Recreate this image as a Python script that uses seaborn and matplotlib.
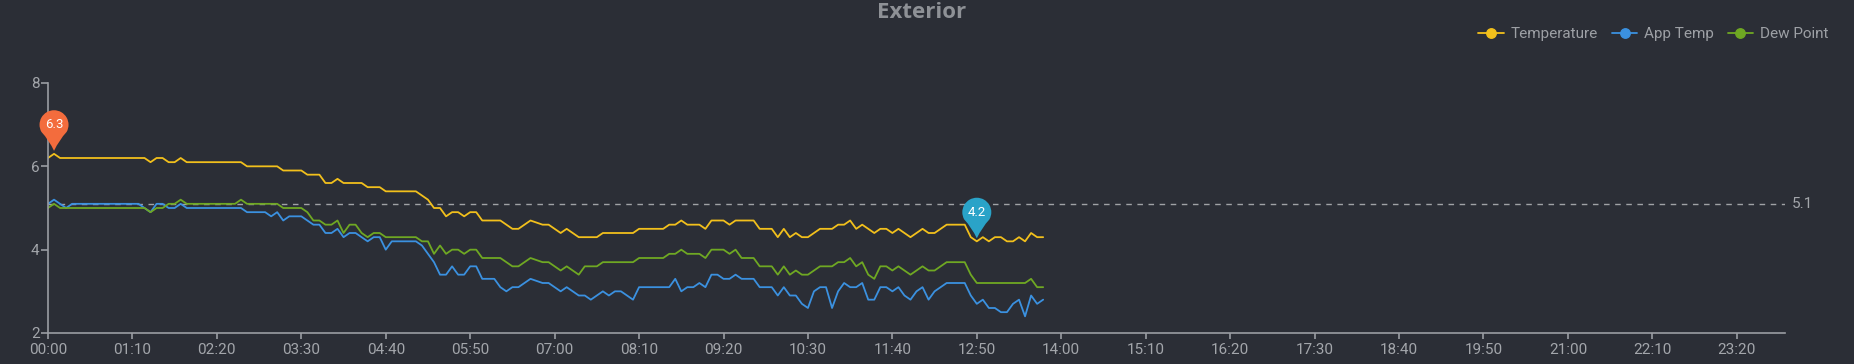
import numpy as np
import pandas as pd
import matplotlib
matplotlib.use("Agg")
import matplotlib.pyplot as plt
import matplotlib.transforms as mtransforms
from matplotlib.path import Path
from matplotlib.patches import PathPatch
from matplotlib.lines import Line2D
import seaborn as sns

# readings every 5 minutes from 00:00 to 13:45
temperature = [
    6.2, 6.3, 6.2, 6.2, 6.2, 6.2, 6.2, 6.2, 6.2, 6.2,
    6.2, 6.2, 6.2, 6.2, 6.2, 6.2, 6.2, 6.1, 6.2, 6.2,
    6.1, 6.1, 6.2, 6.1, 6.1, 6.1, 6.1, 6.1, 6.1, 6.1,
    6.1, 6.1, 6.1, 6.0, 6.0, 6.0, 6.0, 6.0, 6.0, 5.9,
    5.9, 5.9, 5.9, 5.8, 5.8, 5.8, 5.6, 5.6, 5.7, 5.6,
    5.6, 5.6, 5.6, 5.5, 5.5, 5.5, 5.4, 5.4, 5.4, 5.4,
    5.4, 5.4, 5.3, 5.2, 5.0, 5.0, 4.8, 4.9, 4.9, 4.8,
    4.9, 4.9, 4.7, 4.7, 4.7, 4.7, 4.6, 4.5, 4.5, 4.6,
    4.7, 4.65, 4.6, 4.6, 4.5, 4.4, 4.5, 4.4, 4.3, 4.3,
    4.3, 4.3, 4.4, 4.4, 4.4, 4.4, 4.4, 4.4, 4.5, 4.5,
    4.5, 4.5, 4.5, 4.6, 4.6, 4.7, 4.6, 4.6, 4.6, 4.5,
    4.7, 4.7, 4.7, 4.6, 4.7, 4.7, 4.7, 4.7, 4.5, 4.5,
    4.5, 4.3, 4.5, 4.3, 4.4, 4.3, 4.3, 4.4, 4.5, 4.5,
    4.5, 4.6, 4.6, 4.7, 4.5, 4.6, 4.5, 4.4, 4.5, 4.5,
    4.4, 4.5, 4.4, 4.3, 4.4, 4.5, 4.4, 4.4, 4.5, 4.6,
    4.6, 4.6, 4.6, 4.3, 4.2, 4.3, 4.2, 4.3, 4.3, 4.2,
    4.2, 4.3, 4.2, 4.4, 4.3, 4.3,
]
app_temp = [
    5.1, 5.2, 5.1, 5.0, 5.1, 5.1, 5.1, 5.1, 5.1, 5.1,
    5.1, 5.1, 5.1, 5.1, 5.1, 5.1, 5.0, 4.9, 5.1, 5.1,
    5.0, 5.0, 5.1, 5.0, 5.0, 5.0, 5.0, 5.0, 5.0, 5.0,
    5.0, 5.0, 5.0, 4.9, 4.9, 4.9, 4.9, 4.8, 4.9, 4.7,
    4.8, 4.8, 4.8, 4.7, 4.6, 4.6, 4.4, 4.4, 4.5, 4.3,
    4.4, 4.4, 4.3, 4.2, 4.3, 4.3, 4.0, 4.2, 4.2, 4.2,
    4.2, 4.2, 4.1, 3.9, 3.7, 3.4, 3.4, 3.6, 3.4, 3.4,
    3.6, 3.6, 3.3, 3.3, 3.3, 3.1, 3.0, 3.1, 3.1, 3.2,
    3.3, 3.25, 3.2, 3.2, 3.1, 3.0, 3.1, 3.0, 2.9, 2.9,
    2.8, 2.9, 3.0, 2.9, 3.0, 3.0, 2.9, 2.8, 3.1, 3.1,
    3.1, 3.1, 3.1, 3.1, 3.3, 3.0, 3.1, 3.1, 3.2, 3.1,
    3.4, 3.4, 3.3, 3.3, 3.4, 3.3, 3.3, 3.3, 3.1, 3.1,
    3.1, 2.9, 3.1, 2.9, 2.9, 2.7, 2.6, 3.0, 3.1, 3.1,
    2.6, 3.0, 3.2, 3.1, 3.1, 3.2, 2.8, 2.8, 3.1, 3.1,
    3.0, 3.1, 2.9, 2.8, 3.0, 3.1, 2.8, 3.0, 3.1, 3.2,
    3.2, 3.2, 3.2, 2.9, 2.7, 2.8, 2.6, 2.6, 2.5, 2.5,
    2.7, 2.8, 2.4, 2.9, 2.7, 2.8,
]
dew_point = [
    5.0, 5.1, 5.0, 5.0, 5.0, 5.0, 5.0, 5.0, 5.0, 5.0,
    5.0, 5.0, 5.0, 5.0, 5.0, 5.0, 5.0, 4.9, 5.0, 5.0,
    5.1, 5.1, 5.2, 5.1, 5.1, 5.1, 5.1, 5.1, 5.1, 5.1,
    5.1, 5.1, 5.2, 5.1, 5.1, 5.1, 5.1, 5.1, 5.1, 5.0,
    5.0, 5.0, 5.0, 4.9, 4.7, 4.7, 4.6, 4.6, 4.7, 4.4,
    4.6, 4.6, 4.4, 4.3, 4.4, 4.4, 4.3, 4.3, 4.3, 4.3,
    4.3, 4.3, 4.2, 4.2, 3.9, 4.1, 3.9, 4.0, 4.0, 3.9,
    4.0, 4.0, 3.8, 3.8, 3.8, 3.8, 3.7, 3.6, 3.6, 3.7,
    3.8, 3.75, 3.7, 3.7, 3.6, 3.5, 3.6, 3.5, 3.4, 3.6,
    3.6, 3.6, 3.7, 3.7, 3.7, 3.7, 3.7, 3.7, 3.8, 3.8,
    3.8, 3.8, 3.8, 3.9, 3.9, 4.0, 3.9, 3.9, 3.9, 3.8,
    4.0, 4.0, 4.0, 3.9, 4.0, 3.8, 3.8, 3.8, 3.6, 3.6,
    3.6, 3.4, 3.6, 3.4, 3.5, 3.4, 3.4, 3.5, 3.6, 3.6,
    3.6, 3.7, 3.7, 3.8, 3.6, 3.7, 3.4, 3.3, 3.6, 3.6,
    3.5, 3.6, 3.5, 3.4, 3.5, 3.6, 3.5, 3.5, 3.6, 3.7,
    3.7, 3.7, 3.7, 3.4, 3.2, 3.2, 3.2, 3.2, 3.2, 3.2,
    3.2, 3.2, 3.2, 3.3, 3.1, 3.1,
]
series_names = ["Temperature", "App Temp", "Dew Point"]
series_colors = ["#f2c01c", "#3b91e0", "#6fa823"]
minutes = np.arange(len(temperature)) * 5
tick_minutes = list(range(0, 1401, 70))

bg = "#2b2e36"
axis_col = "#9a9da3"
text_col = "#a3a6ab"

sns.set_theme(style="dark", rc={"axes.facecolor": bg, "figure.facecolor": bg})
plt.rcParams["font.family"] = ["Roboto", "DejaVu Sans"]

df = pd.DataFrame({
    "minute": np.tile(minutes, 3),
    "value": temperature + app_temp + dew_point,
    "series": np.repeat(series_names, len(minutes)),
})

W, H = 1854, 364
fig = plt.figure(figsize=(W / 100, H / 100), dpi=100, facecolor=bg)
ax = fig.add_axes([48 / W, 1 - 333 / H, (1785 - 48) / W, 250 / H])
ax.set_facecolor(bg)

sns.lineplot(data=df, x="minute", y="value", hue="series",
             palette=dict(zip(series_names, series_colors)),
             linewidth=1.3, estimator=None, legend=False, ax=ax)

ax.set_xlim(0, 1440)
ax.set_ylim(2, 8)
ax.set_yticks([2, 4, 6, 8])
ax.set_xticks(tick_minutes)
ax.set_xticklabels([f"{m // 60:02d}:{m % 60:02d}" for m in tick_minutes])
ax.set_xlabel("")
ax.set_ylabel("")
ax.grid(False)
for s in ["top", "right"]:
    ax.spines[s].set_visible(False)
for s in ["left", "bottom"]:
    ax.spines[s].set_color(axis_col)
    ax.spines[s].set_linewidth(1.2)
ax.tick_params(axis="x", colors=text_col, labelsize=11, length=4, width=1.2,
               color=axis_col, pad=3.5, direction="out", bottom=True)
ax.tick_params(axis="y", colors=text_col, labelsize=11, length=5, width=1.2,
               color=axis_col, pad=1, direction="out", left=True)

# average line (drawn at the displayed, rounded average)
avg = round(float(np.mean(temperature)), 1)
ax.axhline(avg, color="#a0a2a6", lw=1, ls=(0, (4, 4)), zorder=1)
trans = mtransforms.blended_transform_factory(ax.transAxes, ax.transData)
ax.text(1 + 6.5 / 1737, avg, f"{avg:.1f}", transform=trans, va="center",
        ha="left", color=text_col, fontsize=11)


def pin(x, y, color, label):
    r, lift = 14.5, 3
    cy = lift + 1.8 * r
    arc = Path.arc(-30, 210)
    av = arc.vertices[1:] * r + [0, cy]
    ac = list(arc.codes[1:])
    ra = np.array([np.cos(np.radians(-30)), np.sin(np.radians(-30))]) * r + [0, cy]
    verts = [(0, lift), (0.35 * r, cy - 1.05 * r), tuple(ra)] + [tuple(v) for v in av] + \
            [(-0.35 * r, cy - 1.05 * r), (0, lift), (0, lift)]
    codes = [Path.MOVETO, Path.CURVE3, Path.CURVE3] + ac + \
            [Path.CURVE3, Path.CURVE3, Path.CLOSEPOLY]
    tr = mtransforms.Affine2D() + mtransforms.ScaledTranslation(x, y, ax.transData)
    ax.add_patch(PathPatch(Path(verts, codes), transform=tr, facecolor=color,
                           edgecolor="none", zorder=5, clip_on=False))
    ax.annotate(label, (x, y), xytext=(0, cy * 0.72), textcoords="offset points",
                ha="center", va="center", color="white", fontsize=9.5, zorder=6)


imax = int(np.argmax(temperature))
imin = int(np.argmin(temperature))
pin(minutes[imax], temperature[imax], "#f36c3d", f"{temperature[imax]:.1f}")
pin(minutes[imin], temperature[imin], "#2aa3c8", f"{temperature[imin]:.1f}")

handles = [Line2D([0], [0], color=c, lw=1.3, marker="o", markersize=6.8) for c in series_colors]
fig.legend(handles, series_names, loc="center right",
           bbox_to_anchor=(1828 / W, 1 - 34 / H), ncol=3, frameon=False,
           handlelength=1.68, handletextpad=0.41, columnspacing=0.92,
           borderpad=0, borderaxespad=0, labelcolor="#9da0a5", fontsize=11)

fig.text(922 / W, 1 - 18 / H, "Exterior", ha="center", va="baseline",
         fontsize=16, fontweight="bold", color="#8e9196", family="Open Sans")

fig.savefig("out.png", dpi=100, facecolor=bg)
